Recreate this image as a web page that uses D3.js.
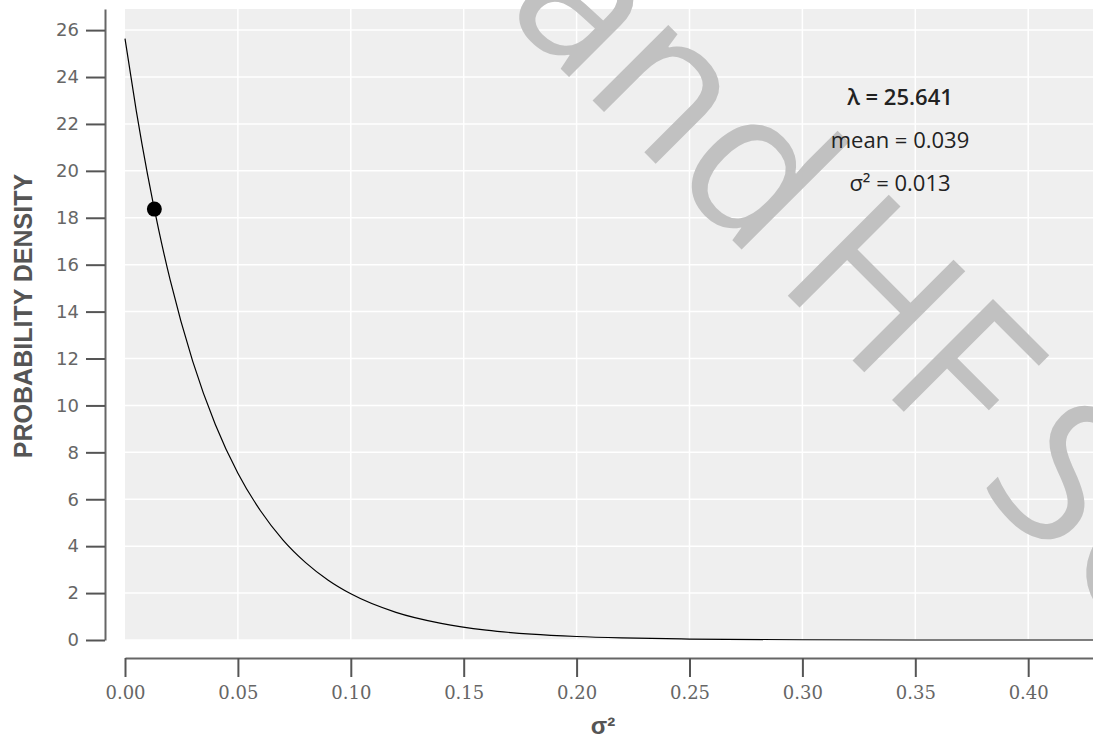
<!DOCTYPE html>
<html>
<head>
<meta charset="utf-8">
<script src="https://cdn.jsdelivr.net/npm/d3@7"></script>
<style>
  html, body { margin: 0; padding: 0; background: #ffffff; }
  svg { display: block; }
</style>
</head>
<body>
<svg id="chart" width="1093" height="741"></svg>
<script>
// Exponential prior on sigma^2: sampled density curve
const sigma2 = [0, 0.005, 0.01, 0.015, 0.02, 0.03, 0.04, 0.05, 0.06, 0.07, 0.08, 0.09, 0.10,
                0.12, 0.14, 0.16, 0.18, 0.20, 0.22, 0.25, 0.30, 0.35, 0.43];
const density = [25.64, 22.56, 19.84, 17.45, 15.35, 11.88, 9.19, 7.11, 5.51, 4.26, 3.30, 2.55, 1.97,
                 1.18, 0.71, 0.42, 0.25, 0.15, 0.09, 0.04, 0.01, 0.00, 0.00];

// Highlighted point on the curve
const pointSigma2 = [0.013];
const pointDensity = [18.37];

// Axis ticks
const xTicks = [0, 0.05, 0.10, 0.15, 0.20, 0.25, 0.30, 0.35, 0.40];
const yTicks = [0, 2, 4, 6, 8, 10, 12, 14, 16, 18, 20, 22, 24, 26];

// Annotation lines
const annotations = ["λ = 25.641", "mean = 0.039", "σ² = 0.013"];

const svg = d3.select("#chart");

const x = d3.scaleLinear().domain([0, 0.4287]).range([125, 1093]);
const y = d3.scaleLinear().domain([0, 26.9]).range([640, 9]);

// Plot panel
svg.append("rect")
  .attr("x", x.range()[0]).attr("y", y.range()[1])
  .attr("width", x.range()[1] - x.range()[0])
  .attr("height", y.range()[0] - y.range()[1])
  .attr("fill", "#efefef");

// Grid lines
svg.append("g").selectAll("line").data(yTicks).join("line")
  .attr("x1", x.range()[0]).attr("x2", x.range()[1])
  .attr("y1", d => y(d)).attr("y2", d => y(d))
  .attr("stroke", "#ffffff").attr("stroke-width", 1.5);
svg.append("g").selectAll("line").data(xTicks.slice(1)).join("line")
  .attr("x1", d => x(d)).attr("x2", d => x(d))
  .attr("y1", y.range()[0]).attr("y2", y.range()[1])
  .attr("stroke", "#ffffff").attr("stroke-width", 1.5);

// Watermark lettering
const wm = svg.append("g")
  .attr("fill", "#c1c1c1")
  .style("font-family", "'Open Sans', sans-serif")
  .style("font-size", "200px");
wm.append("text").attr("transform", "translate(502,10) rotate(45)").text("and");
const wm2 = wm.append("text").attr("transform", "translate(774,282) rotate(45)");
wm2.append("tspan").text("HF");
wm2.append("tspan").attr("dx", 35).text("SC");

// Density curve
const line = d3.line()
  .x((d, i) => x(sigma2[i]))
  .y(d => y(d))
  .curve(d3.curveMonotoneX);
svg.append("path")
  .datum(density)
  .attr("d", line)
  .attr("fill", "none")
  .attr("stroke", "#000")
  .attr("stroke-width", 1.2);

// Highlighted point
svg.append("g").selectAll("circle").data(pointSigma2).join("circle")
  .attr("cx", d => x(d))
  .attr("cy", (d, i) => y(pointDensity[i]))
  .attr("r", 7.5)
  .attr("fill", "#000");

// Y axis
const yAxis = svg.append("g")
  .attr("transform", "translate(105,0)")
  .call(d3.axisLeft(y).tickValues(yTicks).tickSize(19).tickSizeOuter(0).tickPadding(7));
yAxis.select(".domain").attr("stroke", "#666").attr("stroke-width", 2);
yAxis.selectAll(".tick line").attr("stroke", "#555").attr("stroke-width", 2);
yAxis.selectAll(".tick text")
  .attr("fill", "#666")
  .style("font-family", "'DejaVu Sans', sans-serif")
  .style("font-size", "18px");

// X axis
const xAxis = svg.append("g")
  .attr("transform", "translate(0,658)")
  .call(d3.axisBottom(x).tickValues(xTicks).tickSize(19).tickSizeOuter(0)
    .tickFormat(d3.format(".2f")));
xAxis.select(".domain").attr("stroke", "#666").attr("stroke-width", 2);
xAxis.selectAll(".tick line").attr("stroke", "#555").attr("stroke-width", 2);
xAxis.selectAll(".tick text")
  .attr("y", 41).attr("dy", 0)
  .attr("fill", "#666")
  .style("font-family", "'DejaVu Serif', serif")
  .style("font-size", "18px");

// Axis titles
svg.append("text")
  .attr("transform", "translate(32,316) rotate(-90)")
  .attr("text-anchor", "middle")
  .attr("fill", "#555")
  .style("font-family", "'Liberation Sans', Arial, sans-serif")
  .style("font-weight", "bold")
  .style("font-size", "25px")
  .text("PROBABILITY DENSITY");

svg.append("text")
  .attr("x", 603).attr("y", 734)
  .attr("text-anchor", "middle")
  .attr("fill", "#555")
  .style("font-family", "'Liberation Sans', Arial, sans-serif")
  .style("font-weight", "bold")
  .style("font-size", "24px")
  .text("σ²");

// Parameter annotation
svg.append("g").selectAll("text").data(annotations).join("text")
  .attr("x", 900)
  .attr("y", (d, i) => 105 + i * 43)
  .attr("text-anchor", "middle")
  .attr("fill", "#222")
  .style("font-family", "'Open Sans', sans-serif")
  .style("font-size", "22px")
  .style("font-weight", (d, i) => i === 0 ? 600 : 400)
  .text(d => d);
</script>
</body>
</html>
